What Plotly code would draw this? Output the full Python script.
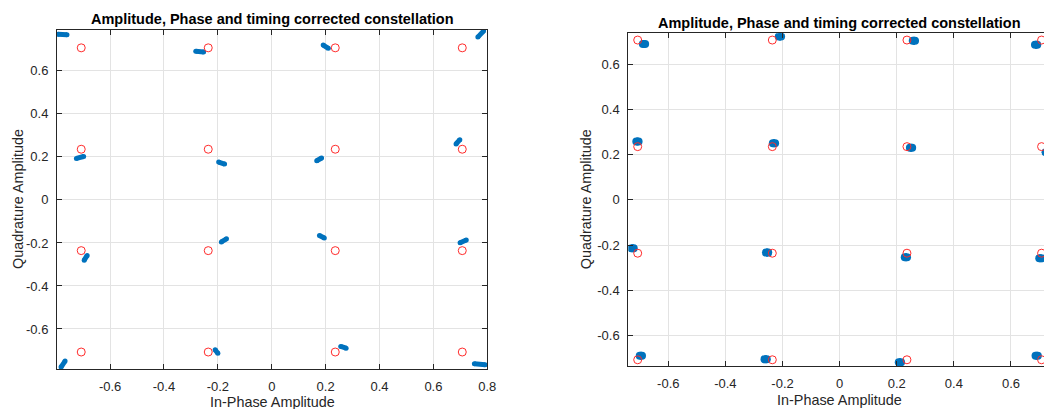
import plotly.graph_objects as go

W, H = 1044, 409

# Reference 16-QAM constellation levels
ref_levels = [-0.7071, -0.2357, 0.2357, 0.7071]

# Left plot: received symbol clusters, each read as (x_start, y_start, x_end, y_end)
left_x0 = [-0.793, -0.282, 0.191, 0.765, -0.725, -0.197, 0.167, 0.684,
           -0.696, -0.187, 0.177, 0.699, -0.782, -0.210, 0.256, 0.752]
left_y0 = [0.770, 0.691, 0.720, 0.757, 0.193, 0.176, 0.182, 0.260,
           -0.280, -0.195, -0.165, -0.199, -0.777, -0.697, -0.681, -0.762]
left_x1 = [-0.760, -0.253, 0.210, 0.786, -0.698, -0.175, 0.185, 0.698,
           -0.685, -0.168, 0.195, 0.722, -0.767, -0.200, 0.276, 0.792]
left_y1 = [0.768, 0.688, 0.705, 0.785, 0.202, 0.167, 0.195, 0.280,
           -0.258, -0.181, -0.177, -0.186, -0.749, -0.713, -0.689, -0.766]

# Right plot: received symbol clusters (x_start, y_start, x_end, y_end)
right_x0 = [-0.689, -0.213, 0.256, 0.684, -0.712, -0.234, 0.246, 0.721,
            -0.729, -0.258, 0.228, 0.699, -0.700, -0.263, 0.207, 0.686]
right_y0 = [0.690, 0.723, 0.704, 0.686, 0.258, 0.251, 0.231, 0.211,
            -0.214, -0.233, -0.254, -0.258, -0.689, -0.705, -0.718, -0.689]
right_x1 = [-0.681, -0.205, 0.264, 0.692, -0.704, -0.226, 0.254, 0.729,
            -0.721, -0.250, 0.236, 0.707, -0.692, -0.255, 0.215, 0.694]
right_y1 = [0.690, 0.723, 0.704, 0.686, 0.258, 0.251, 0.231, 0.211,
            -0.214, -0.233, -0.254, -0.258, -0.689, -0.705, -0.718, -0.689]

left_xticks = [-0.6, -0.4, -0.2, 0, 0.2, 0.4, 0.6, 0.8]
left_xlabels = ["-0.6", "-0.4", "-0.2", "0", "0.2", "0.4", "0.6", "0.8"]
yticks = [-0.6, -0.4, -0.2, 0, 0.2, 0.4, 0.6]
ylabels = ["-0.6", "-0.4", "-0.2", "0", "0.2", "0.4", "0.6"]
right_xticks = [-0.6, -0.4, -0.2, 0, 0.2, 0.4, 0.6]
right_xlabels = ["-0.6", "-0.4", "-0.2", "0", "0.2", "0.4", "0.6"]

title_text = "Amplitude, Phase and timing corrected constellation"
xlabel_text = "In-Phase Amplitude"
ylabel_text = "Quadrature Amplitude"

BLUE = "#0072BD"
RED = "#FF2B2B"
AX = "#262626"
GRID = "#E3E3E3"
FONT = "Liberation Sans, Arial, Helvetica, sans-serif"


def px(x):
    return x / W


def py(y):
    return 1 - y / H


def segments(x0, y0, x1, y1):
    xs, ys = [], []
    for a, b, c, d in zip(x0, y0, x1, y1):
        xs += [a, c, None]
        ys += [b, d, None]
    return xs, ys


ref_x = [x for x in ref_levels for _ in ref_levels]
ref_y = [y for _ in ref_levels for y in ref_levels]

fig = go.Figure()

lx, ly = segments(left_x0, left_y0, left_x1, left_y1)
fig.add_trace(go.Scatter(x=lx, y=ly, mode="lines+markers", xaxis="x", yaxis="y",
                         line=dict(color=BLUE, width=5),
                         marker=dict(color=BLUE, size=5, line=dict(width=0)),
                         showlegend=False, hoverinfo="skip"))
fig.add_trace(go.Scatter(x=ref_x, y=ref_y, mode="markers", xaxis="x", yaxis="y",
                         marker=dict(symbol="circle-open", color=RED, size=8,
                                     line=dict(width=1, color=RED)),
                         showlegend=False))

rx, ry = segments(right_x0, right_y0, right_x1, right_y1)
fig.add_trace(go.Scatter(x=rx, y=ry, mode="lines+markers", xaxis="x2", yaxis="y2",
                         line=dict(color=BLUE, width=8),
                         marker=dict(color=BLUE, size=8, line=dict(width=0)),
                         showlegend=False, hoverinfo="skip"))
fig.add_trace(go.Scatter(x=ref_x, y=ref_y, mode="markers", xaxis="x2", yaxis="y2",
                         marker=dict(symbol="circle-open", color=RED, size=8,
                                     line=dict(width=1, color=RED)),
                         showlegend=False))

common = dict(showline=True, linecolor=AX, linewidth=1, ticks="inside", ticklen=5,
              tickcolor=AX, tickwidth=1, showgrid=True, gridcolor=GRID, gridwidth=1,
              zeroline=False, tickmode="array", automargin=False,
              tickfont=dict(family=FONT, size=13, color=AX), fixedrange=True)

fig.update_layout(
    width=W, height=H, autosize=False,
    margin=dict(l=0, r=0, t=0, b=0, pad=0, autoexpand=False),
    paper_bgcolor="white", plot_bgcolor="white",
    xaxis=dict(common, domain=[px(57), px(487.3)], range=[-0.797, 0.8],
               tickvals=left_xticks, ticktext=left_xlabels, mirror="ticks",
               anchor="y", ticklabelstandoff=5),
    yaxis=dict(common, domain=[py(369), py(30)], range=[-0.786, 0.79],
               tickvals=yticks, ticktext=ylabels, mirror="ticks", anchor="x",
               ticklabelstandoff=5),
    xaxis2=dict(common, domain=[px(628.3), 1.0], range=[-0.740, 0.7156],
                tickvals=right_xticks, ticktext=right_xlabels, mirror="ticks",
                anchor="y2", ticklabelstandoff=5),
    yaxis2=dict(common, domain=[py(366.3), py(33.3)], range=[-0.736, 0.737],
                tickvals=yticks, ticktext=ylabels, mirror=False, anchor="x2",
                ticklabelstandoff=5),
)

ann = []
for cx, ty in [(272.2, 19), (839.0, 23)]:
    ann.append(dict(text="<b>" + title_text + "</b>", x=px(cx), y=py(ty),
                    xref="paper", yref="paper", xanchor="center", yanchor="middle",
                    showarrow=False, font=dict(family=FONT, size=14.5, color="black")))
for cx, ty in [(272.2, 402), (839.0, 399.5)]:
    ann.append(dict(text=xlabel_text, x=px(cx), y=py(ty), xref="paper", yref="paper",
                    xanchor="center", yanchor="middle", showarrow=False,
                    font=dict(family=FONT, size=14.4, color=AX)))
for cx, ty in [(17.5, 199.5), (585.5, 199.8)]:
    ann.append(dict(text=ylabel_text, x=px(cx), y=py(ty), xref="paper", yref="paper",
                    xanchor="center", yanchor="middle", textangle=-90, showarrow=False,
                    font=dict(family=FONT, size=14.4, color=AX)))
fig.update_layout(annotations=ann)

fig.write_html("out.html",
               config={"responsive": False, "displayModeBar": False},
               post_script="document.body.style.margin='0px';"
                           "document.body.style.overflow='hidden';")
